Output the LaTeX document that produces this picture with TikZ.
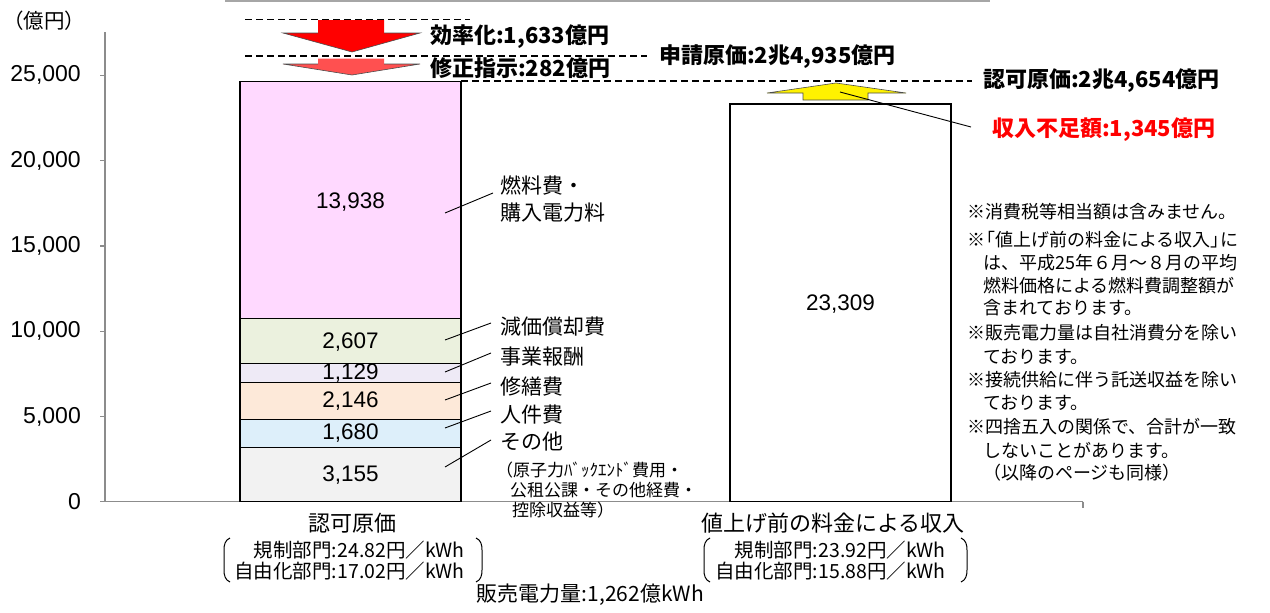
\documentclass[tikz,border=0pt]{standalone}
\usepackage{fontspec}
\setmainfont{Liberation Sans}
\newfontfamily\jp{Noto Sans CJK JP}
\newfontfamily\numf{Liberation Sans}
\definecolor{cFuel}{HTML}{FFD9FF}
\definecolor{cDep}{HTML}{EBF1DE}
\definecolor{cRet}{HTML}{EEEAF6}
\definecolor{cRep}{HTML}{FDE9D9}
\definecolor{cPer}{HTML}{DDEFFA}
\definecolor{cOth}{HTML}{F2F2F2}
\definecolor{cArrA}{HTML}{FF0000}
\definecolor{cArrB}{HTML}{FF5050}
\definecolor{cAxis}{HTML}{8C8C8C}
\begin{document}
\begin{tikzpicture}[x=1pt,y=-1pt,
  seg/.style={draw=black, line width=1.1pt},
  val/.style={font={\numf\fontsize{22.5}{26}\selectfont}, inner sep=0pt},
  lbl/.style={font={\jp\fontsize{21}{25}\selectfont}, anchor=west, inner sep=0pt},
  sublbl/.style={font={\jp\fontsize{17}{20}\selectfont}, anchor=west, inner sep=0pt},
  notetxt/.style={font={\jp\fontsize{18}{22}\selectfont}, anchor=west, inner sep=0pt},
  headtxt/.style={font={\jp\bfseries\fontsize{22}{26}\selectfont}, anchor=west, inner sep=0pt},
  captxt/.style={font={\jp\fontsize{22}{26}\selectfont}, inner sep=0pt},
  subcaptxt/.style={font={\jp\fontsize{19.5}{23}\selectfont}, anchor=east, inner sep=0pt},
  leadline/.style={draw=black, line width=0.9pt},
  guide/.style={draw=black, line width=1.2pt, dash pattern=on 7pt off 4pt},
  axisline/.style={draw=cAxis, line width=1.4pt},
  ticklbl/.style={font={\numf\fontsize{23}{27}\selectfont}, anchor=east, inner sep=0pt},
  paren/.style={draw=black, line width=1pt},
  arrowshape/.style={draw=black!70, line width=0.6pt},
]
\useasboundingbox (0,0) rectangle (1270,613);

% top rule
\draw[draw=gray!70, line width=2pt] (225,1) -- (990,1);

% axes
\draw[axisline] (105,32) -- (105,501.7);
\draw[axisline] (100,501.7) -- (1083,501.7);
\draw[axisline] (1083,501.7) -- (1083,508);
\foreach \yy in {75.2,160.5,245.9,331.2,416.5}{\draw[axisline] (100,\yy) -- (105,\yy);}
\node[ticklbl] (t25) at (81,75.2) {25,000};
\node[ticklbl] (t20) at (81,160.5) {20,000};
\node[ticklbl] (t15) at (81,245.9) {15,000};
\node[ticklbl] (t10) at (81,331.2) {10,000};
\node[ticklbl] (t5) at (81,416.5) {5,000};
\node[ticklbl] (t0) at (81,501.7) {0};
\node[font={\jp\fontsize{20.5}{24}\selectfont}, inner sep=0pt] (unit) at (44,21) {（億円）};

% left bar segments
\draw[seg, fill=cOth] (240,501.7) rectangle (461,447.9);
\draw[seg, fill=cPer] (240,447.9) rectangle (461,419.2);
\draw[seg, fill=cRep] (240,419.2) rectangle (461,382.6);
\draw[seg, fill=cRet] (240,382.6) rectangle (461,363.3);
\draw[seg, fill=cDep] (240,363.3) rectangle (461,318.9);
\draw[seg, fill=cFuel] (240,318.9) rectangle (461,81.1);
% right bar
\draw[seg, fill=white] (730,501.7) rectangle (951,104.0);

\node[val] (v1) at (350.5,475) {3,155};
\node[val] (v2) at (350.5,433.5) {1,680};
\node[val] (v3) at (350.5,401) {2,146};
\node[val] (v4) at (350.5,373) {1,129};
\node[val] (v5) at (350.5,342) {2,607};
\node[val] (v6) at (350.5,202) {13,938};
\node[val] (vr) at (840.5,304) {23,309};

% labels
\node[lbl] (lf1) at (500,185) {燃料費・};
\node[lbl] (lf2) at (500,213) {購入電力料};
\node[lbl] (ld) at (500,327) {減価償却費};
\node[lbl] (lr) at (500,357) {事業報酬};
\node[lbl] (lp) at (500,387) {修繕費};
\node[lbl] (lh) at (500,415) {人件費};
\node[lbl] (lo) at (500,442) {その他};
\node[sublbl] (lo1) at (496,470) {（原子力ﾊﾞｯｸｴﾝﾄﾞ費用・};
\node[sublbl] (lo2) at (510,490) {公租公課・その他経費・};
\node[sublbl] (lo3) at (512,510) {控除収益等）};

% leader lines
\coordinate (af) at (445,213); \coordinate (bf) at (493,193);
\coordinate (ad) at (445,340); \coordinate (bd) at (491,323);
\coordinate (ar) at (445,372); \coordinate (br) at (491,353);
\coordinate (ap) at (445,400); \coordinate (bp) at (491,383);
\coordinate (ah) at (445,428); \coordinate (bh) at (491,411);
\coordinate (ao) at (445,467); \coordinate (bo) at (491,440);
\draw[leadline] (af) -- (bf);
\draw[leadline] (ad) -- (bd);
\draw[leadline] (ar) -- (br);
\draw[leadline] (ap) -- (bp);
\draw[leadline] (ah) -- (bh);
\draw[leadline] (ao) -- (bo);

% dashed guides
\draw[guide] (245,19.5) -- (470,19.5);
\draw[guide] (245,56) -- (647,56);
\draw[guide] (461,81) -- (972,81);

% arrows
\fill[cArrA] (318,20) -- (384,20) -- (384,33) -- (420,33) -- (352,52) -- (283,33) -- (318,33) -- cycle;
\draw[arrowshape] (318,33) -- (283,33) -- (352,52) -- (420,33) -- (384,33);
\fill[cArrB] (318,58.5) -- (384,58.5) -- (384,64) -- (420,64) -- (352,75) -- (283,64) -- (318,64) -- cycle;
\draw[arrowshape] (318,64) -- (283,64) -- (352,75) -- (420,64) -- (384,64);
\draw[arrowshape, fill=yellow] (803,100) -- (868,100) -- (868,93) -- (906,93) -- (836,83) -- (767,93) -- (803,93) -- cycle;

% headers
\node[headtxt] (h1) at (430,37) {効率化:1,633億円};
\node[headtxt] (h2) at (430,68) {修正指示:282億円};
\node[headtxt] (h3) at (659,57) {申請原価:2兆4,935億円};
\node[headtxt] (h4) at (983,81) {認可原価:2兆4,654億円};
\node[headtxt, text=red] (h5) at (992,130) {収入不足額:1,345億円};
\coordinate (ya) at (840,92); \coordinate (yb) at (971,127);
\draw[leadline] (ya) -- (yb);

% notes
\node[notetxt] (n1) at (967,212) {※消費税等相当額は含みません。};
\node[notetxt] (n2) at (967,240) {※\kern-0.45em「値上げ前の料金による収入」\kern-0.45em に};
\node[notetxt] (n3) at (983,263) {は、平成25年６月～８月の平均};
\node[notetxt] (n4) at (983,286) {燃料価格による燃料費調整額が};
\node[notetxt] (n5) at (983,308) {含まれております。};
\node[notetxt] (n6) at (967,333) {※販売電力量は自社消費分を除い};
\node[notetxt] (n7) at (983,357) {ております。};
\node[notetxt] (n8) at (967,380) {※接続供給に伴う託送収益を除い};
\node[notetxt] (n9) at (983,403) {ております。};
\node[notetxt] (n10) at (967,427) {※四捨五入の関係で、合計が一致};
\node[notetxt] (n11) at (983,450) {しないことがあります。};
\node[notetxt] (n12) at (983,473) {（以降のページも同様）};

% captions
\node[captxt] (c1) at (352,523) {認可原価};
\node[captxt] (c2) at (833,523) {値上げ前の料金による収入};
\node[subcaptxt] (c1a) at (465,550) {規制部門:24.82円／kWh};
\node[subcaptxt] (c1b) at (465,571) {自由化部門:17.02円／kWh};
\node[subcaptxt] (c2a) at (946,550) {規制部門:23.92円／kWh};
\node[subcaptxt] (c2b) at (946,571) {自由化部門:15.88円／kWh};
\node[captxt, font={\jp\fontsize{21}{25}\selectfont}] (sales) at (590.5,595) {販売電力量:1,262億kWh};

% parentheses
\draw[paren] (230,538) .. controls (225,540) and (224,545) .. (224,550) -- (224,570) .. controls (224,575) and (225,580) .. (230,582);
\draw[paren] (476,538) .. controls (481,540) and (482,545) .. (482,550) -- (482,570) .. controls (482,575) and (481,580) .. (476,582);
\draw[paren] (710,538) .. controls (705,540) and (704,545) .. (704,550) -- (704,570) .. controls (704,575) and (705,580) .. (710,582);
\draw[paren] (961,538) .. controls (966,540) and (967,545) .. (967,550) -- (967,570) .. controls (967,575) and (966,580) .. (961,582);
\end{tikzpicture}
\end{document}
